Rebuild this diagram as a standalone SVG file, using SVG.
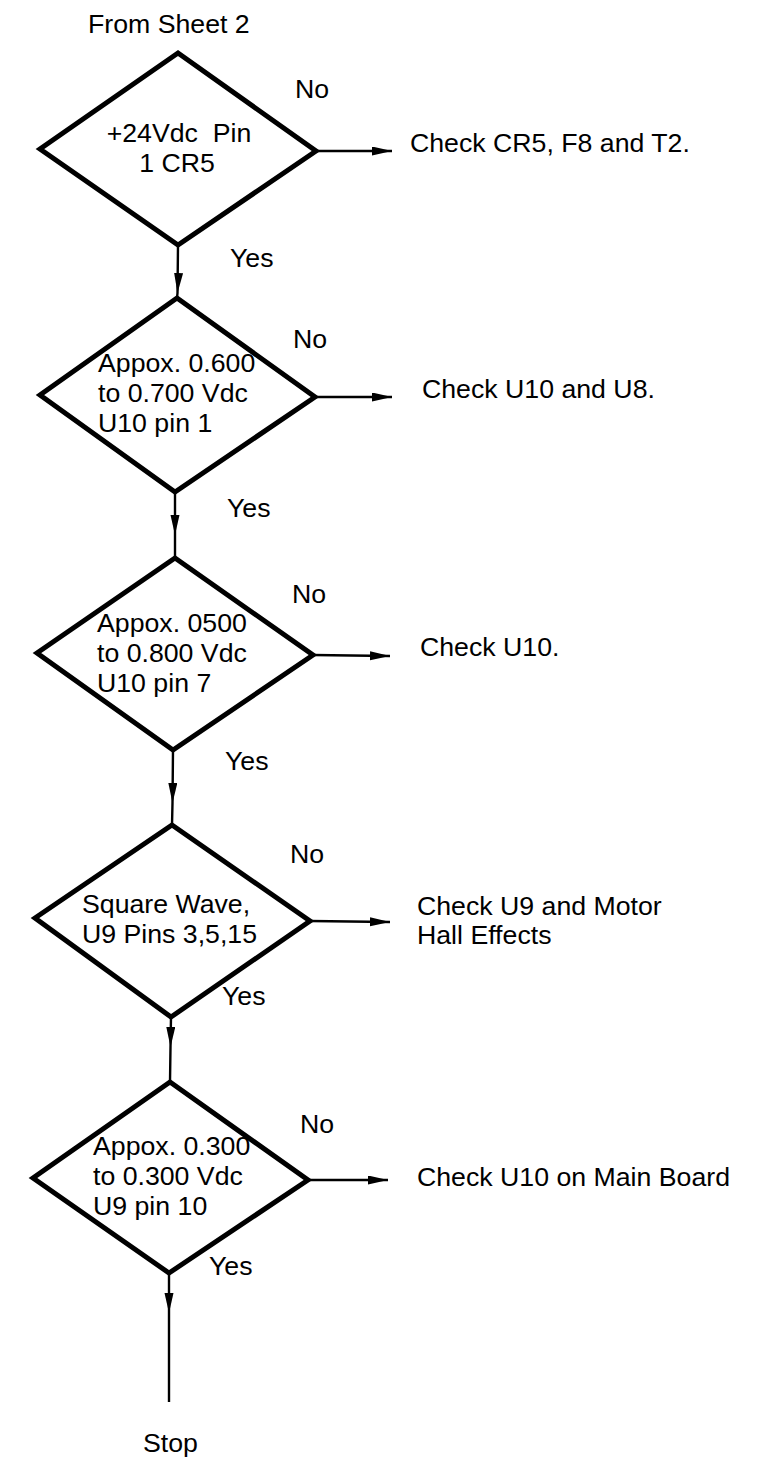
<svg xmlns="http://www.w3.org/2000/svg" width="765" height="1459" viewBox="0 0 765 1459">
<style>
text{font-family:"Liberation Sans",Arial,sans-serif;font-size:26.7px;fill:#000}
.d{fill:#fff;stroke:#000;stroke-width:5;stroke-linejoin:miter}
.c{fill:none;stroke:#000;stroke-width:2.4}
</style>
<defs>
<marker id="ah" markerUnits="userSpaceOnUse" markerWidth="22" markerHeight="10" refX="20" refY="4.5" orient="auto">
<path d="M0,0 L20,4.5 L0,9 z" fill="#000"/>
</marker>
</defs>
<rect width="765" height="1459" fill="#fff"/>
<text x="88" y="33">From Sheet 2</text>
<g id="connectors">
<path class="c" d="M178,245 L177.5,293 L177,298" marker-mid="url(#ah)"/>
<path class="c" d="M175,492 L175,535 L175,558" marker-mid="url(#ah)"/>
<path class="c" d="M173,750 L172.5,803 L172,825" marker-mid="url(#ah)"/>
<path class="c" d="M171,1017 L170.5,1047 L170,1082" marker-mid="url(#ah)"/>
<path class="c" d="M169,1273 L169,1313 L169,1402" marker-mid="url(#ah)"/>
<path class="c" d="M316,151 L392,151" marker-end="url(#ah)"/>
<path class="c" d="M315,397 L392,397" marker-end="url(#ah)"/>
<path class="c" d="M313,655 L390,656" marker-end="url(#ah)"/>
<path class="c" d="M310,921 L390,922" marker-end="url(#ah)"/>
<path class="c" d="M308,1180 L388,1180" marker-end="url(#ah)"/>
</g>
<g id="n1">
<polygon class="d" points="178,53 316,151 178,245 40,149"/>
<text x="179" y="142" text-anchor="middle" xml:space="preserve">+24Vdc  Pin</text>
<text x="177" y="172" text-anchor="middle">1 CR5</text>
<text x="295" y="98">No</text>
<text x="230" y="267">Yes</text>
</g>
<g id="r1"><text x="410" y="152">Check CR5, F8 and T2.</text></g>
<g id="n2">
<polygon class="d" points="177,298 315,397 175,492 40,395"/>
<text x="98" y="372">Appox. 0.600</text>
<text x="98" y="402">to 0.700 Vdc</text>
<text x="98" y="432">U10 pin 1</text>
<text x="293" y="348">No</text>
<text x="227" y="517">Yes</text>
</g>
<g id="r2"><text x="422" y="398">Check U10 and U8.</text></g>
<g id="n3">
<polygon class="d" points="175,558 313,655 173,750 37,653"/>
<text x="97" y="632">Appox. 0500</text>
<text x="97" y="662">to 0.800 Vdc</text>
<text x="97" y="692">U10 pin 7</text>
<text x="292" y="603">No</text>
<text x="225" y="770">Yes</text>
</g>
<g id="r3"><text x="420" y="656">Check U10.</text></g>
<g id="n4">
<polygon class="d" points="172,825 310,921 171,1017 35,918"/>
<text x="82" y="913">Square Wave,</text>
<text x="82" y="943">U9 Pins 3,5,15</text>
<text x="290" y="863">No</text>
<text x="222" y="1005">Yes</text>
</g>
<g id="r4"><text x="417" y="915">Check U9 and Motor</text><text x="417" y="944">Hall Effects</text></g>
<g id="n5">
<polygon class="d" points="170,1082 308,1180 169,1273 33,1178"/>
<text x="93" y="1155">Appox. 0.300</text>
<text x="93" y="1185">to 0.300 Vdc</text>
<text x="93" y="1215">U9 pin 10</text>
<text x="300" y="1133">No</text>
<text x="209" y="1275">Yes</text>
</g>
<g id="r5"><text x="417" y="1186">Check U10 on Main Board</text></g>
<g id="stop"><text x="143" y="1452">Stop</text></g>
</svg>
